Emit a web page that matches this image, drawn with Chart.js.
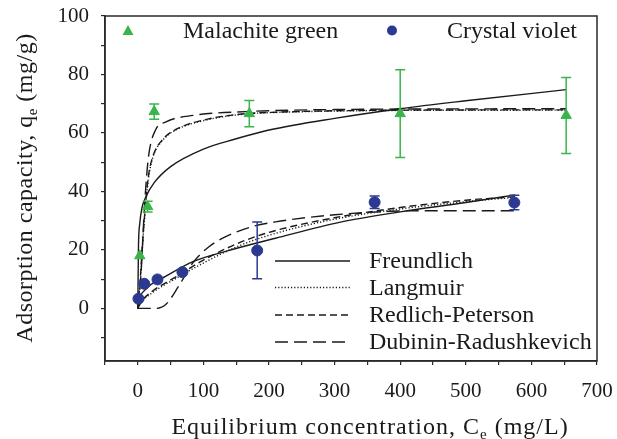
<!DOCTYPE html>
<html>
<head>
<meta charset="utf-8">
<script src="https://cdn.jsdelivr.net/npm/chart.js@4.4.1/dist/chart.umd.min.js"></script>
<style>
  html, body { margin: 0; padding: 0; background: #fff; }
  #wrap { width: 617px; height: 439px; }
</style>
</head>
<body>
<div id="wrap"><canvas id="isothermChart"></canvas></div>
<script>
// measured points (Ce in mg/L, qe in mg/g) with error bar half-heights
const mgConc = [3, 15, 25, 170, 400, 653];
const mgQe = [18, 34.8, 67.3, 66.6, 66.6, 66];
const mgErr = [0.8, 1.8, 2.6, 4.5, 15, 13];

const cvConc = [1, 10, 30, 68, 182, 361, 574];
const cvQe = [3.3, 8.4, 9.9, 12.4, 19.8, 36.3, 36.2];
const cvErr = [0.8, 0.8, 0.8, 0.8, 9.7, 2.1, 2.5];

// fitted isotherm curves
const mgFreundlichC = [0, 1, 3, 6, 12, 25, 50, 100, 150, 200, 300, 400, 500, 653];
const mgFreundlichQ = [0, 21, 29, 34, 38, 43, 48.5, 54.5, 58, 61, 65, 68.3, 71, 74.8];
const mgLangmuirC = [0, 4, 8, 12, 16, 23, 38, 58, 108, 165, 210, 400, 653];
const mgLangmuirQ = [0, 10, 24, 35, 44, 51.7, 57.5, 61, 64.6, 66.5, 67, 67.7, 67.8];
const mgRedlichC = [0, 4, 8, 12, 16, 23, 38, 58, 108, 165, 210, 400, 653];
const mgRedlichQ = [0, 11, 25, 36, 45, 52, 57.8, 61.2, 64.8, 66.6, 67.1, 67.8, 67.9];
const mgDubininC = [0, 5, 9, 13, 17, 27, 43, 84, 165, 300, 653];
const mgDubininQ = [0, 12, 30, 44, 53, 61, 63.8, 66, 67.3, 68, 68.3];

const cvFreundlichC = [0, 1.5, 12, 43, 84, 134, 210, 309, 400, 500, 575];
const cvFreundlichQ = [0, 2.4, 6.5, 11, 16, 19.5, 24, 29.5, 33, 36.2, 38.8];
const cvLangmuirC = [0, 5, 20, 60, 100, 150, 200, 300, 400, 500, 575];
const cvLangmuirQ = [0, 2, 5, 10.5, 15.5, 21, 25, 30.5, 34, 36.5, 38];
const cvRedlichC = [0, 5, 20, 60, 100, 150, 200, 300, 400, 500, 575];
const cvRedlichQ = [0, 2.2, 5.5, 11, 16.5, 22, 26, 31, 34.5, 37, 38.2];
const cvDubininC = [0, 28, 43, 62, 84, 108, 134, 175, 210, 300, 385, 450, 575];
const cvDubininQ = [0, 0, 1.4, 7.5, 15.6, 21, 24.5, 28, 29.6, 32, 33.2, 33.4, 33.4];

const dyeNames = ["Malachite green", "Crystal violet"];
const modelNames = ["Freundlich", "Langmuir", "Redlich-Peterson", "Dubinin-Radushkevich"];
const modelDashes = [[], [1.2, 2], [7, 4], [13, 6]];

const GREEN = "#39b54a";
const BLUE = "#2b3990";
const INK = "#1a1a1a";
const SERIF = "'Liberation Serif', 'Times New Roman', serif";

function toPoints(xs, ys) {
  return xs.map((x, i) => ({ x: x, y: ys[i] }));
}

function curve(label, xs, ys, dash) {
  return {
    label: label,
    data: toPoints(xs, ys),
    showLine: true,
    borderColor: INK,
    borderWidth: 1.4,
    borderDash: dash,
    pointRadius: 0,
    fill: false,
    cubicInterpolationMode: "monotone",
    order: 2,
  };
}

const datasets = [
  {
    label: dyeNames[0],
    data: toPoints(mgConc, mgQe),
    errors: mgErr,
    pointStyle: "triangle",
    pointRadius: 6,
    backgroundColor: GREEN,
    borderColor: GREEN,
    showLine: false,
    order: 0,
  },
  {
    label: dyeNames[1],
    data: toPoints(cvConc, cvQe),
    errors: cvErr,
    pointStyle: "circle",
    pointRadius: 5.5,
    backgroundColor: BLUE,
    borderColor: BLUE,
    showLine: false,
    order: 0,
  },
  curve("MG Freundlich", mgFreundlichC, mgFreundlichQ, modelDashes[0]),
  curve("MG Langmuir", mgLangmuirC, mgLangmuirQ, modelDashes[1]),
  curve("MG Redlich-Peterson", mgRedlichC, mgRedlichQ, modelDashes[2]),
  curve("MG Dubinin-Radushkevich", mgDubininC, mgDubininQ, modelDashes[3]),
  curve("CV Freundlich", cvFreundlichC, cvFreundlichQ, modelDashes[0]),
  curve("CV Langmuir", cvLangmuirC, cvLangmuirQ, modelDashes[1]),
  curve("CV Redlich-Peterson", cvRedlichC, cvRedlichQ, modelDashes[2]),
  curve("CV Dubinin-Radushkevich", cvDubininC, cvDubininQ, modelDashes[3]),
];

// vertical error bars with caps
const errorBars = {
  id: "errorBars",
  afterDatasetsDraw(chart) {
    const { ctx, scales } = chart;
    chart.data.datasets.forEach(ds => {
      if (!ds.errors) return;
      ctx.save();
      ctx.strokeStyle = ds.borderColor;
      ctx.lineWidth = 1.5;
      ds.data.forEach((p, j) => {
        const x = scales.x.getPixelForValue(p.x);
        const yTop = scales.y.getPixelForValue(p.y + ds.errors[j]);
        const yBot = scales.y.getPixelForValue(p.y - ds.errors[j]);
        if (yBot - yTop < 8) return;
        ctx.beginPath();
        ctx.moveTo(x, yTop);
        ctx.lineTo(x, yBot);
        ctx.moveTo(x - 5, yTop);
        ctx.lineTo(x + 5, yTop);
        ctx.moveTo(x - 5, yBot);
        ctx.lineTo(x + 5, yBot);
        ctx.stroke();
      });
      ctx.restore();
    });
  },
};

// text with a subscript part, centred on (cx, cy)
function drawSubText(ctx, parts, cx, cy, size, spacing) {
  const mainFont = size + "px " + SERIF;
  const subFont = Math.round(size * 0.62) + "px " + SERIF;
  ctx.letterSpacing = spacing + "px";
  let total = 0;
  parts.forEach(p => {
    ctx.font = p.sub ? subFont : mainFont;
    total += ctx.measureText(p.t).width;
  });
  let x = cx - total / 2;
  ctx.textAlign = "left";
  ctx.textBaseline = "alphabetic";
  const base = cy + size * 0.33;
  parts.forEach(p => {
    ctx.font = p.sub ? subFont : mainFont;
    ctx.fillText(p.t, x, p.sub ? base + size * 0.22 : base);
    x += ctx.measureText(p.t).width;
  });
  ctx.letterSpacing = "0px";
}

// frame, axis titles and both legends
const decorations = {
  id: "decorations",
  afterDraw(chart) {
    const { ctx, chartArea } = chart;
    ctx.save();
    ctx.strokeStyle = "#2a2a2a";
    ctx.lineWidth = 1.5;
    ctx.strokeRect(chartArea.left, chartArea.top, chartArea.right - chartArea.left, chartArea.bottom - chartArea.top);

    ctx.fillStyle = INK;
    drawSubText(ctx, [{ t: "Equilibrium concentration, C" }, { t: "e", sub: true }, { t: " (mg/L)" }], 370, 426, 24, 1);

    ctx.save();
    ctx.translate(24, 188);
    ctx.rotate(-Math.PI / 2);
    drawSubText(ctx, [{ t: "Adsorption capacity, q" }, { t: "e", sub: true }, { t: " (mg/g)" }], 0, 0, 24, 0.5);
    ctx.restore();

    // marker legend at the top
    ctx.font = "24px " + SERIF;
    ctx.textBaseline = "middle";
    ctx.textAlign = "left";
    ctx.fillStyle = GREEN;
    ctx.beginPath();
    ctx.moveTo(128, 25);
    ctx.lineTo(133.5, 35);
    ctx.lineTo(122.5, 35);
    ctx.closePath();
    ctx.fill();
    ctx.fillStyle = BLUE;
    ctx.beginPath();
    ctx.arc(392, 30.5, 5, 0, Math.PI * 2);
    ctx.fill();
    ctx.fillStyle = INK;
    ctx.fillText(dyeNames[0], 183, 32);
    ctx.fillText(dyeNames[1], 447, 32);

    // line style legend
    const rowY = [261, 287.5, 315, 342];
    modelNames.forEach((name, i) => {
      ctx.strokeStyle = INK;
      ctx.lineWidth = 1.4;
      ctx.setLineDash(modelDashes[i]);
      ctx.beginPath();
      ctx.moveTo(275, rowY[i]);
      ctx.lineTo(350, rowY[i]);
      ctx.stroke();
      ctx.setLineDash([]);
      ctx.fillText(name, 369, rowY[i] + 1);
    });
    ctx.restore();
  },
};

new Chart(document.getElementById("isothermChart"), {
  type: "scatter",
  data: { datasets: datasets },
  plugins: [errorBars, decorations],
  options: {
    responsive: true,
    maintainAspectRatio: false,
    animation: false,
    layout: { padding: { left: 0, top: 16, right: 20, bottom: 0 } },
    plugins: {
      legend: { display: false },
      tooltip: { enabled: false },
    },
    scales: {
      x: {
        type: "linear",
        min: -50,
        max: 700,
        afterFit(scale) {
          scale.height = 78;
          scale.paddingLeft = 0;
          scale.paddingRight = 0;
        },
        afterBuildTicks(scale) {
          const t = [];
          for (let v = -50; v <= 700; v += 50) t.push({ value: v });
          scale.ticks = t;
        },
        ticks: {
          autoSkip: false,
          maxRotation: 0,
          padding: 14,
          color: INK,
          font: { family: SERIF, size: 21 },
          callback: v => (v >= 0 && v % 100 === 0 ? String(v) : ""),
        },
        grid: { drawOnChartArea: false, drawTicks: true, tickLength: 4, color: "#2a2a2a", lineWidth: 1.2 },
        border: { display: true, color: "#2a2a2a", width: 1.5 },
      },
      y: {
        type: "linear",
        min: -18,
        max: 100,
        afterFit(scale) {
          scale.width = 105;
          scale.paddingTop = 0;
          scale.paddingBottom = 0;
        },
        afterBuildTicks(scale) {
          const t = [];
          for (let v = -10; v <= 100; v += 10) t.push({ value: v });
          scale.ticks = t;
        },
        ticks: {
          autoSkip: false,
          padding: 12,
          color: INK,
          font: { family: SERIF, size: 21 },
          callback: v => (v >= 0 && v % 20 === 0 ? String(v) : ""),
        },
        grid: { drawOnChartArea: false, drawTicks: true, tickLength: 4, color: "#2a2a2a", lineWidth: 1.2 },
        border: { display: true, color: "#2a2a2a", width: 1.5 },
      },
    },
  },
});
</script>
</body>
</html>
